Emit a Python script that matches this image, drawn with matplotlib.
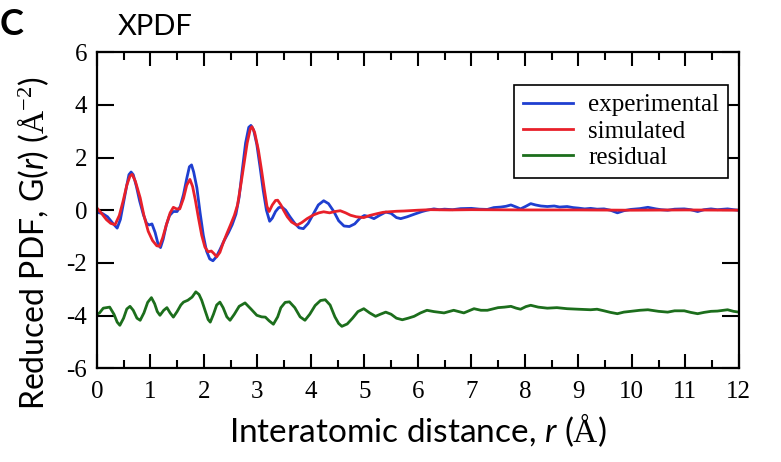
import numpy as np
import matplotlib.pyplot as plt
from matplotlib.ticker import MultipleLocator

# experimental G(r)
exp_r = [0.00, 0.10, 0.20, 0.30, 0.38, 0.44, 0.50, 0.56, 0.60, 0.64, 0.68, 0.74,
         0.80, 0.87, 0.93, 0.98, 1.03, 1.09, 1.14, 1.19, 1.24, 1.30, 1.36, 1.43,
         1.50, 1.56, 1.62, 1.68, 1.73, 1.77, 1.81, 1.87, 1.93, 1.99, 2.05, 2.11,
         2.17, 2.23, 2.30, 2.38, 2.46, 2.53, 2.60, 2.66, 2.72, 2.78, 2.84, 2.88,
         2.93, 2.99, 3.05, 3.11, 3.17, 3.23, 3.28, 3.34, 3.40, 3.46, 3.53, 3.61,
         3.70, 3.78, 3.86, 3.95, 4.05, 4.14, 4.24, 4.33, 4.43, 4.52, 4.62, 4.72,
         4.82, 4.92, 5.00, 5.10, 5.18, 5.28, 5.40, 5.50, 5.60, 5.68, 5.80, 5.95,
         6.08, 6.17, 6.30, 6.40, 6.50, 6.65, 6.80, 7.00, 7.15, 7.30, 7.42, 7.55,
         7.65, 7.74, 7.84, 7.92, 8.02, 8.11, 8.20, 8.30, 8.42, 8.55, 8.65, 8.79,
         8.90, 9.00, 9.12, 9.23, 9.35, 9.48, 9.60, 9.73, 9.85, 9.98, 10.15, 10.30,
         10.45, 10.55, 10.67, 10.80, 10.98, 11.10, 11.23, 11.35, 11.48, 11.60, 11.79,
         11.90, 12.00]
exp_g = [-0.08, -0.12, -0.25, -0.50, -0.68, -0.35, 0.30, 0.95, 1.35, 1.45, 1.35, 0.90,
         0.35, -0.17, -0.50, -0.56, -0.52, -0.85, -1.25, -1.42, -1.10, -0.55, -0.20, -0.05,
         -0.05, 0.15, 0.60, 1.20, 1.65, 1.72, 1.45, 0.85, -0.10, -0.95, -1.55, -1.85,
         -1.92, -1.78, -1.50, -1.15, -0.85, -0.55, -0.15, 0.50, 1.55, 2.55, 3.15, 3.22,
         3.05, 2.50, 1.65, 0.75, 0.00, -0.42, -0.30, -0.05, 0.10, 0.12, 0.00, -0.25,
         -0.50, -0.67, -0.70, -0.50, -0.13, 0.20, 0.36, 0.25, -0.05, -0.40, -0.60, -0.62,
         -0.52, -0.30, -0.20, -0.25, -0.32, -0.20, -0.07, -0.12, -0.28, -0.32, -0.25, -0.14,
         -0.05, 0.00, 0.05, 0.02, 0.04, 0.02, 0.06, 0.07, 0.04, 0.03, 0.10, 0.12,
         0.15, 0.20, 0.12, 0.05, 0.15, 0.25, 0.20, 0.16, 0.14, 0.16, 0.12, 0.14,
         0.10, 0.08, 0.05, 0.07, 0.04, 0.05, 0.00, -0.10, -0.02, 0.03, 0.06, 0.11,
         0.05, 0.02, 0.00, 0.04, 0.05, 0.02, -0.05, 0.02, 0.05, 0.02, 0.05,
         0.02, 0.00]

# simulated
sim_r = [0.00, 0.08, 0.18, 0.26, 0.34, 0.42, 0.49, 0.56, 0.62, 0.66, 0.72, 0.81,
         0.88, 0.96, 1.04, 1.12, 1.17, 1.23, 1.30, 1.37, 1.43, 1.49, 1.55, 1.62,
         1.68, 1.74, 1.79, 1.84, 1.90, 1.96, 2.02, 2.08, 2.14, 2.19, 2.24, 2.30,
         2.36, 2.43, 2.50, 2.57, 2.63, 2.69, 2.75, 2.81, 2.87, 2.90, 2.95, 3.02,
         3.08, 3.13, 3.18, 3.22, 3.28, 3.34, 3.38, 3.44, 3.49, 3.56, 3.64, 3.74,
         3.83, 3.93, 4.05, 4.15, 4.24, 4.35, 4.45, 4.55, 4.65, 4.74, 4.85, 4.99,
         5.10, 5.24, 5.35, 5.46, 5.60, 5.74, 6.00, 6.24, 6.60, 7.00, 8.00, 9.00,
         10.00, 11.00, 12.00]
sim_g = [0.09, -0.10, -0.36, -0.50, -0.55, -0.20, 0.34, 0.95, 1.30, 1.36, 1.10, 0.47,
         -0.20, -0.80, -1.15, -1.35, -1.37, -1.05, -0.55, -0.10, 0.11, 0.05, 0.05, 0.45,
         0.95, 1.17, 0.90, 0.40, -0.30, -0.95, -1.40, -1.58, -1.55, -1.65, -1.77, -1.60,
         -1.25, -0.89, -0.55, -0.20, 0.20, 0.95, 1.75, 2.55, 3.10, 3.17, 2.95, 2.28,
         1.50, 0.80, 0.15, -0.05, 0.20, 0.37, 0.38, 0.20, 0.00, -0.25, -0.45, -0.57,
         -0.47, -0.32, -0.18, -0.10, -0.06, -0.10, -0.05, -0.02, -0.10, -0.19, -0.25, -0.28,
         -0.20, -0.13, -0.08, -0.06, -0.04, -0.03, 0.00, 0.02, 0.01, 0.02, 0.01, 0.01,
         0.00, 0.01, 0.00]

# residual (offset by -4)
res_r = [0.00, 0.05, 0.12, 0.24, 0.32, 0.38, 0.43, 0.50, 0.56, 0.62, 0.68, 0.75,
         0.81, 0.88, 0.95, 1.02, 1.08, 1.13, 1.18, 1.25, 1.31, 1.37, 1.43, 1.50,
         1.57, 1.62, 1.70, 1.78, 1.85, 1.91, 1.96, 2.03, 2.08, 2.12, 2.18, 2.24,
         2.30, 2.36, 2.43, 2.49, 2.57, 2.66, 2.77, 2.88, 2.99, 3.08, 3.15, 3.22,
         3.30, 3.38, 3.44, 3.52, 3.60, 3.70, 3.80, 3.89, 3.98, 4.08, 4.18, 4.27,
         4.36, 4.45, 4.52, 4.58, 4.68, 4.78, 4.88, 4.99, 5.10, 5.21, 5.30, 5.40,
         5.50, 5.60, 5.71, 5.82, 5.93, 6.05, 6.17, 6.30, 6.49, 6.67, 6.86, 7.05,
         7.18, 7.30, 7.50, 7.62, 7.74, 7.84, 7.92, 8.02, 8.11, 8.25, 8.42, 8.60,
         8.79, 9.00, 9.23, 9.35, 9.48, 9.60, 9.73, 9.85, 9.98, 10.15, 10.30, 10.50,
         10.67, 10.80, 10.98, 11.10, 11.23, 11.35, 11.48, 11.60, 11.79, 11.90, 12.00]
res_g = [-3.95, -3.90, -3.72, -3.68, -3.95, -4.25, -4.37, -4.10, -3.75, -3.65, -3.80, -4.10,
         -4.18, -3.90, -3.50, -3.32, -3.55, -3.85, -3.99, -3.80, -3.70, -3.90, -4.06, -3.85,
         -3.60, -3.49, -3.42, -3.30, -3.10, -3.20, -3.42, -3.85, -4.15, -4.25, -3.95, -3.60,
         -3.49, -3.70, -4.05, -4.18, -3.95, -3.65, -3.52, -3.75, -3.99, -4.05, -4.06, -4.20,
         -4.33, -4.05, -3.70, -3.50, -3.48, -3.70, -4.05, -4.18, -3.95, -3.62, -3.43, -3.40,
         -3.60, -4.05, -4.30, -4.41, -4.32, -4.10, -3.85, -3.74, -3.90, -4.03, -3.95, -3.87,
         -3.95, -4.10, -4.16, -4.10, -4.03, -3.90, -3.80, -3.85, -3.90, -3.80, -3.90, -3.74,
         -3.80, -3.80, -3.70, -3.68, -3.65, -3.72, -3.76, -3.66, -3.61, -3.68, -3.72, -3.70,
         -3.74, -3.76, -3.78, -3.76, -3.82, -3.88, -3.93, -3.87, -3.84, -3.80, -3.78, -3.84,
         -3.87, -3.82, -3.82, -3.88, -3.93, -3.88, -3.84, -3.83, -3.78, -3.84, -3.87]

plt.rcParams['mathtext.fontset'] = 'custom'
plt.rcParams['mathtext.rm'] = 'Liberation Serif'
plt.rcParams['mathtext.it'] = 'Lato:italic'
plt.rcParams['axes.unicode_minus'] = False

fig = plt.figure(figsize=(7.81, 4.62), dpi=100)
ax = fig.add_axes([0.124, 0.203, 0.822, 0.684])

lw = 2.0
ax.plot(exp_r, exp_g, color='#1f3fd0', lw=lw, label='experimental', solid_joinstyle='round')
ax.plot(sim_r, sim_g, color='#e8202a', lw=lw, label='simulated', solid_joinstyle='round')
ax.plot(res_r, res_g, color='#1c6e1c', lw=lw, label='residual', solid_joinstyle='round')

ax.set_xlim(0, 12)
ax.set_ylim(-6, 6)
ax.xaxis.set_major_locator(MultipleLocator(1))
ax.xaxis.set_minor_locator(MultipleLocator(0.5))
ax.yaxis.set_major_locator(MultipleLocator(2))
ax.tick_params(which='both', direction='in', top=True, right=True, width=1.5, color='black')
ax.tick_params(which='major', length=10)
ax.tick_params(which='minor', length=6)
ax.tick_params(axis='y', which='major', length=12)
for lab in ax.get_xticklabels() + ax.get_yticklabels():
    lab.set_fontfamily('Liberation Serif')
    lab.set_fontsize(18)
ax.tick_params(axis='x', pad=9)
ax.tick_params(axis='y', pad=7)
for s in ax.spines.values():
    s.set_linewidth(1.6)

ax.set_xlabel(r'Interatomic distance, $\mathit{r}$ ($\mathrm{Å}$)', family='Lato', fontsize=24)
ax.set_ylabel(r'Reduced PDF, G($\mathit{r}$) ($\mathrm{Å}^{-2}$)', family='Lato', fontsize=23)
ax.xaxis.set_label_coords(0.5, -0.135)
ax.yaxis.set_label_coords(-0.072, 0.395)

leg = ax.legend(loc='upper right', bbox_to_anchor=(0.983, 0.896), borderaxespad=0,
                fancybox=False, edgecolor='black', framealpha=1, borderpad=0.35,
                handlelength=2.0, handletextpad=0.6,
                prop={'family': 'Liberation Serif', 'size': 18}, labelspacing=0.15)
leg.get_frame().set_linewidth(1.2)

fig.text(0.151, 0.925, 'XPDF', family='Lato', fontsize=21)
fig.text(0.0, 0.925, 'C', family='Lato', fontsize=26, fontweight='bold')

fig.savefig('out.png', dpi=100)
